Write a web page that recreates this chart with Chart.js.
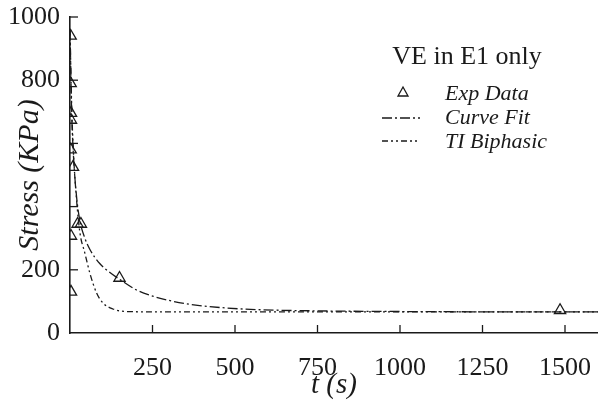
<!DOCTYPE html>
<html>
<head>
<meta charset="utf-8">
<title>VE in E1 only</title>
<script src="https://cdn.jsdelivr.net/npm/chart.js@4/dist/chart.umd.min.js"></script>
<style>
  html, body { margin: 0; padding: 0; background: #fff; }
  #wrap { width: 598px; height: 417px; }
</style>
</head>
<body>
<div id="wrap"><canvas id="stressChart"></canvas></div>
<script>
// Experimental relaxation points
const expTime   = [2, 2, 3, 3, 2, 9, 23, 33, 3, 150, 3, 1485];
const expStress = [940, 790, 696, 674, 580, 525, 345, 345, 307, 174, 130, 72];

// Fitted viscoelastic curve
const fitTime   = [0, 5, 10, 20, 30, 45, 60, 90, 120, 150, 200, 250, 300, 375, 475, 565, 750, 1000, 1300, 1600];
const fitStress = [960, 700, 570, 430, 355, 300, 265, 220, 192, 170, 137, 117, 103, 89, 79, 74, 70, 68, 67, 67];

// Transversely isotropic biphasic prediction
const tiTime   = [0, 5, 10, 20, 30, 45, 60, 80, 100, 130, 170, 250, 500, 1000, 1600];
const tiStress = [960, 720, 580, 420, 318, 253, 190, 128, 95, 76, 68, 67, 67, 67, 67];

const xTicks = [0, 250, 500, 750, 1000, 1250, 1500];
const yTicks = [0, 200, 400, 600, 800, 1000];
const yHiddenLabels = [400, 600];

const toPoints = (xs, ys) => xs.map((x, i) => ({ x: x, y: ys[i] }));

const serif = 'Liberation Serif';
const ink = '#1a1a1a';

// Small tick marks pointing into the plot, plus the legend block
const plotDecor = {
    id: 'plotDecor',
    afterDraw(chart) {
        const { ctx, chartArea, scales } = chart;
        ctx.save();
        ctx.strokeStyle = ink;
        ctx.lineWidth = 1.3;
        scales.y.ticks.forEach(t => {
            if (t.value === 0) return;
            const y = scales.y.getPixelForValue(t.value);
            ctx.beginPath();
            ctx.moveTo(chartArea.left, y);
            ctx.lineTo(chartArea.left + 8, y);
            ctx.stroke();
        });
        scales.x.ticks.forEach(t => {
            if (t.value === 0) return;
            const x = scales.x.getPixelForValue(t.value);
            ctx.beginPath();
            ctx.moveTo(x, chartArea.bottom);
            ctx.lineTo(x, chartArea.bottom - 8);
            ctx.stroke();
        });

        // legend
        ctx.fillStyle = ink;
        ctx.textBaseline = 'middle';
        ctx.textAlign = 'center';
        ctx.font = `26px "${serif}"`;
        ctx.fillText('VE in E1 only', 467, 57);

        ctx.textAlign = 'left';
        ctx.font = `italic 22px "${serif}"`;
        ctx.fillText('Exp Data', 445, 94);
        ctx.fillText('Curve Fit', 445, 118);
        ctx.fillText('TI Biphasic', 445, 142);

        // triangle marker
        ctx.lineWidth = 1.3;
        ctx.beginPath();
        ctx.moveTo(403, 87);
        ctx.lineTo(408, 96);
        ctx.lineTo(398, 96);
        ctx.closePath();
        ctx.stroke();

        // line samples
        ctx.lineWidth = 1.3;
        ctx.setLineDash(chart.data.datasets[1].borderDash);
        ctx.beginPath();
        ctx.moveTo(382, 118);
        ctx.lineTo(420, 118);
        ctx.stroke();
        ctx.setLineDash(chart.data.datasets[2].borderDash);
        ctx.beginPath();
        ctx.moveTo(382, 141);
        ctx.lineTo(420, 141);
        ctx.stroke();
        ctx.restore();
    }
};

new Chart(document.getElementById('stressChart'), {
    type: 'scatter',
    data: {
        datasets: [
            {
                label: 'Exp Data',
                data: toPoints(expTime, expStress),
                pointStyle: 'triangle',
                pointRadius: 6.5,
                pointBorderWidth: 1.3,
                borderColor: ink,
                backgroundColor: 'rgba(0,0,0,0)'
            },
            {
                label: 'Curve Fit',
                data: toPoints(fitTime, fitStress),
                showLine: true,
                pointRadius: 0,
                borderColor: ink,
                borderWidth: 1.3,
                borderDash: [10, 3, 2, 3],
                cubicInterpolationMode: 'monotone'
            },
            {
                label: 'TI Biphasic',
                data: toPoints(tiTime, tiStress),
                showLine: true,
                pointRadius: 0,
                borderColor: ink,
                borderWidth: 1.3,
                borderDash: [6, 3, 2, 3, 2, 3],
                cubicInterpolationMode: 'monotone'
            }
        ]
    },
    options: {
        responsive: true,
        maintainAspectRatio: false,
        animation: false,
        layout: { autoPadding: false, padding: { top: 17, right: 0, left: 0, bottom: 0 } },
        plugins: {
            legend: { display: false },
            tooltip: { enabled: false }
        },
        scales: {
            x: {
                type: 'linear',
                min: 0,
                max: 1600,
                afterBuildTicks: s => { s.ticks = xTicks.map(v => ({ value: v })); },
                afterFit: s => {
                    s.height = 84;
                    s.paddingLeft = 0;
                    s.paddingRight = 0;
                },
                grid: { display: false },
                border: { display: true, color: ink, width: 1.6 },
                ticks: {
                    color: ink,
                    padding: 12,
                    maxRotation: 0,
                    font: { family: serif, size: 26 },
                    callback: v => (v === 0 ? '' : v)
                },
                title: {
                    display: true,
                    text: 't (s)',
                    color: ink,
                    padding: { top: 0, bottom: 14 },
                    font: { family: serif, size: 29, style: 'italic' }
                }
            },
            y: {
                type: 'linear',
                min: 0,
                max: 1000,
                afterBuildTicks: s => { s.ticks = yTicks.map(v => ({ value: v })); },
                afterFit: s => {
                    s.width = 70;
                    s.paddingTop = 0;
                    s.paddingBottom = 0;
                },
                grid: { display: false },
                border: { display: true, color: ink, width: 1.6 },
                ticks: {
                    color: ink,
                    padding: 2,
                    font: { family: serif, size: 26 },
                    callback: v => (yHiddenLabels.includes(v) ? '' : v)
                },
                title: {
                    display: true,
                    text: 'Stress (KPa)',
                    color: ink,
                    padding: { top: 12, bottom: 0 },
                    font: { family: serif, size: 30, style: 'italic' }
                }
            }
        }
    },
    plugins: [plotDecor]
});
</script>
</body>
</html>
